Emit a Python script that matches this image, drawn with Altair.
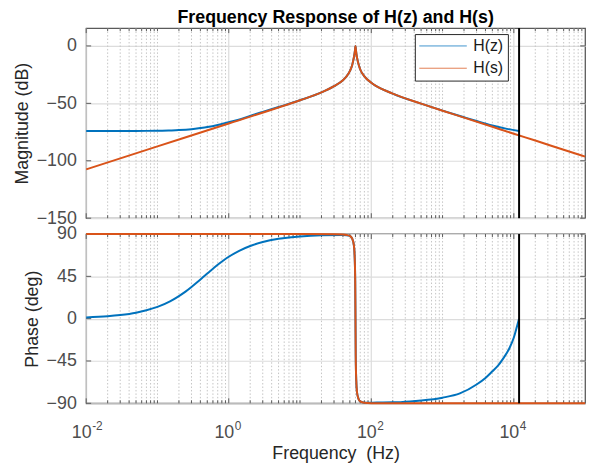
import altair as alt
import pandas as pd

# ---------------- data ----------------
series_names = ["H(z)", "H(s)"]
series_colors = ["#0072BD", "#D95319"]

hs_mag_freq = [0.01, 0.1, 1, 10, 20, 30, 40, 45, 50, 54, 57, 59, 60, 61, 63, 66, 70, 80,
               100, 200, 500, 1000, 2000, 5000, 10000, 20000, 50000, 100000]
hs_mag_db = [-107.5, -87.5, -67.5, -47.3, -40.5, -35.0, -29.8, -26.5, -22.0, -16.5, -10.0, -4.0,
             0.0, -4.0, -10.0, -15.5, -20.5, -26.5, -32.0, -41.5, -50.2, -56.4, -62.4, -70.4,
             -76.5, -82.4, -90.4, -96.4]

hz_mag_freq = [0.01, 0.03, 0.05, 0.1, 0.15, 0.2, 0.3, 0.4, 0.5, 0.7, 1, 1.5, 2, 3, 5, 10, 20, 30,
               40, 45, 50, 54, 57, 59, 60, 61, 63, 66, 70, 80, 100, 200, 500, 1000, 2000, 3000,
               5000, 8000, 11850]
hz_mag_db = [-74.1, -74.1, -74.0, -73.9, -73.6, -73.3, -72.5, -71.5, -70.6, -68.8, -66.4, -63.6,
             -60.9, -57.4, -53.2, -47.3, -40.5, -35.0, -29.8, -26.5, -22.0, -16.5, -10.0, -4.0,
             0.0, -4.0, -10.0, -15.5, -20.5, -26.5, -32.0, -41.5, -50.2, -56.3, -62.1, -65.4,
             -69.3, -72.2, -74.1]

hs_ph_freq = [0.01, 10, 30, 40, 45, 50, 54, 57, 58.5, 59.5, 60, 60.5, 61.5, 63, 66, 70, 80, 100,
              1000, 100000]
hs_ph_deg = [90, 90, 89.8, 89.5, 89, 88, 85, 78, 65, 40, 0, -40, -65, -78, -85, -88, -89.5, -90,
             -90, -90]

hz_ph_freq = [0.01, 0.02, 0.03, 0.05, 0.07, 0.1, 0.15, 0.2, 0.25, 0.3, 0.35, 0.45, 0.55, 0.7,
              0.85, 1, 1.4, 2, 3, 5, 7, 10, 20, 40, 50, 54, 57, 58.5, 59.5, 60, 60.5, 61.5, 63,
              66, 70, 80, 120, 200, 350, 500, 1000, 1750, 3000, 4000, 5000, 6000, 7000, 8600,
              10000, 11000, 11850]
hz_ph_deg = [1.3, 2.5, 3.8, 6.3, 8.9, 12.5, 18.4, 24, 29, 33.7, 37.9, 45, 50.7, 57.3, 62.1,
             65.8, 72.2, 77.3, 81.5, 84.9, 86.3, 87.4, 88.6, 88.9, 88, 85, 78, 65, 40, 0, -40,
             -65, -78, -85, -88, -89.4, -89.2, -89.0, -88, -87, -84, -79.5, -70, -63, -56, -50,
             -43, -32, -20, -9, 0]

nyquist_freq = [11850]

major_ticks = [0.01, 1, 100, 10000]
tick_exponents = ["-2", "0", "2", "4"]
decades = [0.01, 0.1, 1, 10, 100, 1000, 10000]
multipliers = [1, 2, 3, 4, 5, 6, 7, 8, 9]
mag_ticks = [-150, -100, -50, 0]
phase_ticks = [-90, -45, 0, 45, 90]

# ---------------- styling ----------------
FONT = "Liberation Sans"
W = 504
H1 = 192
H2 = 171
LABEL_GRAY = "#4d4d4d"
TITLE_COLOR = "#262626"
FRAME = "#5a5a5a"

minor_vals = [m * d for d in decades for m in multipliers if m * d not in major_ticks]

hs_mag = pd.DataFrame({"freq": hs_mag_freq, "value": hs_mag_db, "series": "H(s)"})
hz_mag = pd.DataFrame({"freq": hz_mag_freq, "value": hz_mag_db, "series": "H(z)"})
hs_ph = pd.DataFrame({"freq": hs_ph_freq, "value": hs_ph_deg, "series": "H(s)"})
hz_ph = pd.DataFrame({"freq": hz_ph_freq, "value": hz_ph_deg, "series": "H(z)"})
minor_df = pd.DataFrame({"freq": minor_vals})
major_df = pd.DataFrame({"freq": major_ticks, "exp": tick_exponents})
nyq_df = pd.DataFrame({"freq": nyquist_freq})
mag_tick_df = pd.DataFrame({"value": mag_ticks})
ph_tick_df = pd.DataFrame({"value": phase_ticks})

xscale = alt.Scale(type="log", domain=[0.01, 100000], nice=False)
color_scale = alt.Scale(domain=series_names, range=series_colors)

top_x_axis = None
bottom_x_axis = alt.Axis(values=major_ticks, labelExpr="'10'", labelAlign="right", labelOffset=5,
                         labelPadding=21, labelFontSize=18, labelColor=LABEL_GRAY, labelFont=FONT,
                         labelFlush=False, labelOverlap=False, grid=False, ticks=False, tickSize=0,
                         domain=False, title="Frequency\u00a0 (Hz)", titleFontSize=18,
                         titleFontWeight="normal", titleColor=TITLE_COLOR, titleFont=FONT,
                         titlePadding=2.5)


def y_axis(values, title):
    return alt.Axis(values=values, grid=True, gridColor="#dcdcdc", gridWidth=1.2, ticks=False,
                    tickSize=0, domain=False, labelPadding=10, labelFontSize=18,
                    labelColor=LABEL_GRAY, labelFont=FONT, labelFlush=False, labelOverlap=False,
                    title=title, titleFontSize=18, titleFontWeight="normal", titleColor=TITLE_COLOR,
                    titleFont=FONT, titlePadding=5)


def build_panel(h, xaxis, yscale, yaxis, blue_df, orange_df, ytick_df, legend):
    X = alt.X("freq:Q", scale=xscale, axis=xaxis)
    Y = alt.Y("value:Q", scale=yscale, axis=yaxis)
    layers = []
    layers.append(alt.Chart(minor_df).mark_rule(color="#c4c4c4", strokeWidth=1, strokeDash=[1.5, 2])
                  .encode(x=X))
    layers.append(alt.Chart(major_df).mark_rule(color="#dcdcdc", strokeWidth=1.2).encode(x=X))
    # inward ticks on x (bottom and top)
    layers.append(alt.Chart(minor_df).mark_rule(color=FRAME, strokeWidth=1)
                  .encode(x=X, y=alt.value(h), y2=alt.value(h - 3)))
    layers.append(alt.Chart(minor_df).mark_rule(color=FRAME, strokeWidth=1)
                  .encode(x=X, y=alt.value(0), y2=alt.value(3)))
    layers.append(alt.Chart(major_df).mark_rule(color=FRAME, strokeWidth=1)
                  .encode(x=X, y=alt.value(h), y2=alt.value(h - 5)))
    layers.append(alt.Chart(major_df).mark_rule(color=FRAME, strokeWidth=1)
                  .encode(x=X, y=alt.value(0), y2=alt.value(5)))
    # inward ticks on y (left and right)
    layers.append(alt.Chart(ytick_df).mark_rule(color=FRAME, strokeWidth=1)
                  .encode(y=Y, x=alt.value(0), x2=alt.value(5)))
    layers.append(alt.Chart(ytick_df).mark_rule(color=FRAME, strokeWidth=1)
                  .encode(y=Y, x=alt.value(W - 5), x2=alt.value(W)))
    # curves
    col = alt.Color("series:N", scale=color_scale, legend=legend)
    layers.append(alt.Chart(blue_df).mark_line(strokeWidth=2, interpolate="monotone")
                  .encode(x=X, y=Y, color=col))
    layers.append(alt.Chart(orange_df).mark_line(strokeWidth=2, interpolate="monotone")
                  .encode(x=X, y=Y, color=col))
    layers.append(alt.Chart(nyq_df).mark_rule(color="#000000", strokeWidth=2).encode(x=X))
    return layers


legend_def = alt.Legend(orient="none", legendX=332, legendY=6, title=None, symbolType="stroke",
                        symbolSize=2304, symbolStrokeWidth=1, symbolOpacity=0.75, clipHeight=16,
                        rowPadding=6.5, padding=4, labelFontSize=16, labelColor="#1a1a1a",
                        labelFont=FONT, labelOffset=6, strokeColor="#262626", fillColor="white")

top_layers = build_panel(H1, top_x_axis, alt.Scale(domain=[-150, 15.5], nice=False, zero=False),
                         y_axis(mag_ticks, "Magnitude (dB)"), hz_mag, hs_mag, mag_tick_df,
                         legend_def)
top = alt.layer(*top_layers).properties(
    width=W, height=H1,
    title=alt.Title("Frequency Response of H(z) and H(s)", fontSize=18, fontWeight="bold",
                    font=FONT, color="#000000", anchor="middle", frame="group", offset=0))

bottom_layers = build_panel(H2, bottom_x_axis, alt.Scale(domain=[-90, 90], nice=False, zero=False),
                            y_axis(phase_ticks, "Phase (deg)"), hz_ph, hs_ph, ph_tick_df, None)
X_b = alt.X("freq:Q", scale=xscale, axis=bottom_x_axis)
bottom_layers.append(alt.Chart(major_df).mark_text(align="left", baseline="alphabetic", dx=6,
                                                   fontSize=12, font=FONT, color=LABEL_GRAY)
                     .encode(x=X_b, y=alt.value(H2 + 27), text="exp:N"))
bottom = alt.layer(*bottom_layers).properties(width=W, height=H2)

chart = alt.vconcat(top, bottom, spacing=16, bounds="flush").resolve_scale(
    color="independent").resolve_legend(color="independent").properties(
    padding={"left": 4, "top": -2, "right": 5, "bottom": 0}
).configure(font=FONT).configure_view(stroke=FRAME, strokeWidth=1.3)

chart.save("out.html", embed_options={"renderer": "svg", "actions": False})
